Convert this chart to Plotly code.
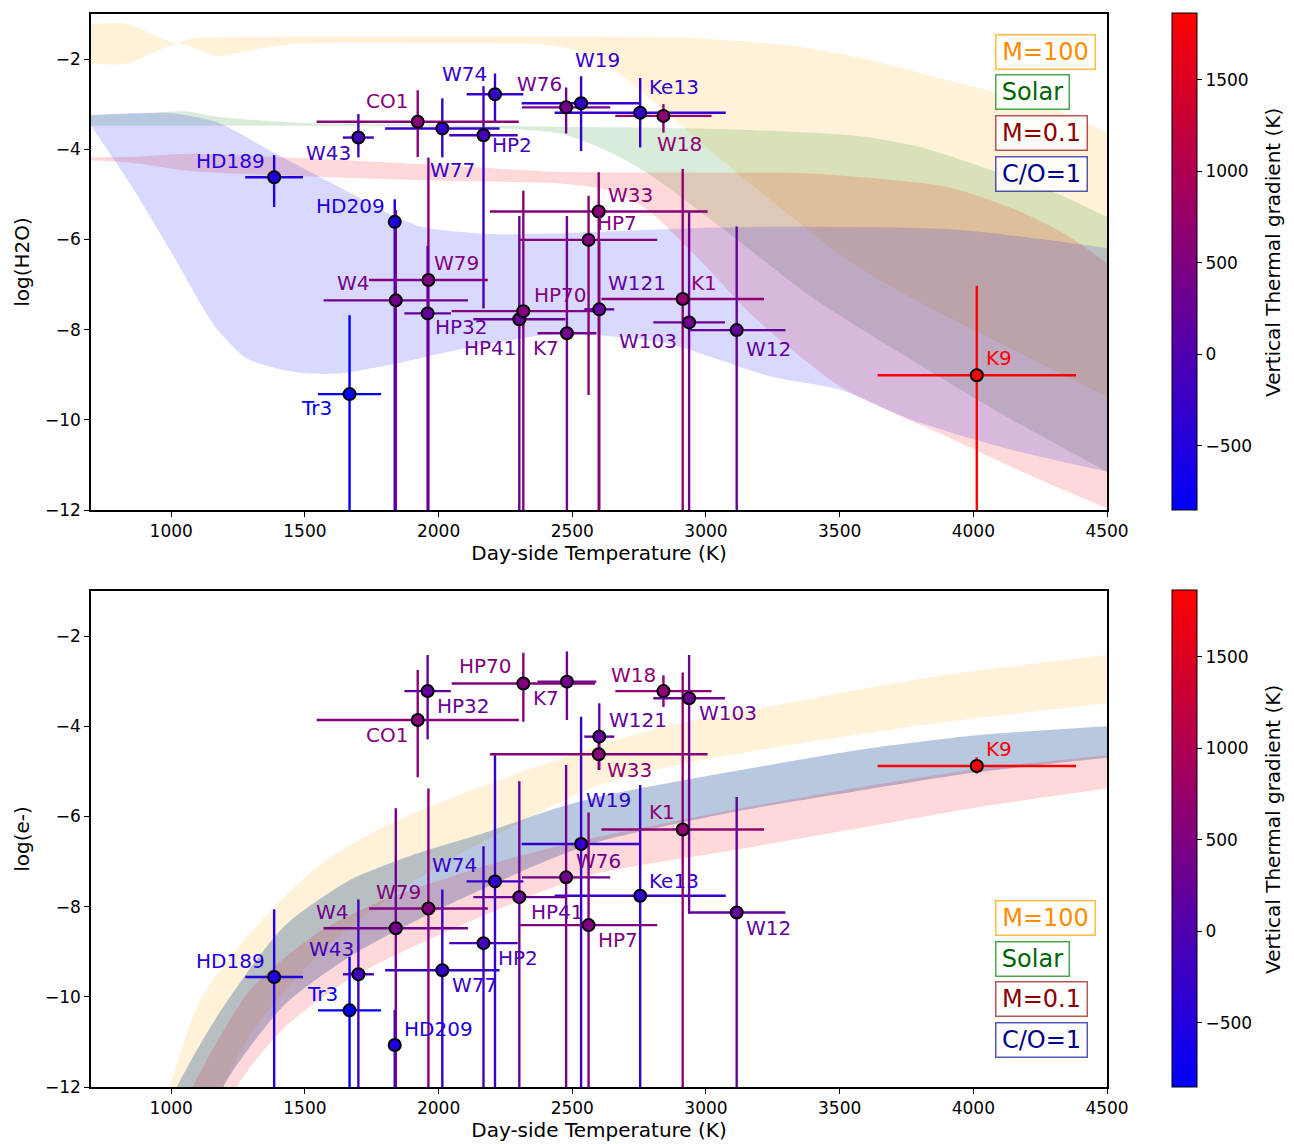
import plotly.graph_objects as go
from plotly.colors import sample_colorscale

# ---------------- data ----------------
names = ["HD189", "HD209", "Tr3", "W43", "W77", "W74", "HP2", "W19", "Ke13", "CO1",
         "W79", "W4", "HP32", "HP41", "HP70", "K7", "W76", "W121", "W33", "HP7",
         "W18", "K1", "W103", "W12", "K9"]
temp = [1385, 1836, 1667, 1700, 2014, 2211, 2168, 2533, 2754, 1922,
        1962, 1840, 1959, 2302, 2317, 2480, 2477, 2601, 2599, 2561,
        2841, 2913, 2937, 3115, 4013]
temp_err = [108, 0, 118, 58, 214, 106, 128, 222, 320, 378,
            222, 270, 87, 172, 268, 110, 165, 56, 407, 257,
            180, 304, 134, 182, 371]
gradient = [-530, -530, -840, -150, -300, -310, -100, -300, -300, 600,
            530, 370, 200, 270, 530, 370, 370, 200, 600, 530,
            660, 660, 310, 200, 1865]

h2o = [-4.62, -5.61, -9.43, -3.74, -3.54, -2.78, -3.69, -2.98, -3.19, -3.39,
       -6.90, -7.35, -7.64, -7.77, -7.59, -8.08, -3.07, -7.55, -5.38, -6.01,
       -3.26, -7.32, -7.84, -8.01, -9.01]
h2o_up = [0.49, 0.50, 1.75, 0.52, 0.67, 0.46, 1.09, 0.60, 0.77, 0.70,
          2.72, 2.00, 1.50, 2.29, 2.67, 2.60, 0.44, 1.50, 0.87, 0.98,
          0.26, 2.88, 2.44, 2.30, 1.98]
h2o_dn = [0.66, 7.0, 3.0, 0.44, 0.64, 0.61, 3.84, 1.06, 0.77, 0.78,
          6.0, 5.0, 5.0, 5.0, 5.0, 4.0, 0.58, 5.0, 7.0, 3.44,
          0.37, 5.0, 5.0, 4.0, 3.0]

elec = [-9.56, -11.07, -10.30, -9.50, -9.41, -7.44, -8.81, -6.61, -7.76, -3.86,
        -8.04, -8.48, -3.22, -7.79, -3.05, -3.01, -7.35, -4.23, -4.62, -8.41,
        -3.22, -6.29, -3.38, -8.13, -4.88]
elec_up = [1.50, 0.78, 1.19, 1.66, 1.79, 2.80, 2.15, 2.82, 2.46, 1.11,
           2.66, 2.66, 0.80, 2.57, 0.68, 0.67, 2.49, 0.74, 0.35, 2.50,
           0.35, 3.48, 0.96, 2.56, 0.19]
elec_dn = [3.0, 1.5, 2.0, 3.0, 3.0, 5.0, 4.0, 6.0, 5.0, 1.27,
           4.0, 4.0, 1.07, 5.0, 0.85, 0.85, 5.0, 0.74, 0.35, 4.0,
           0.35, 6.0, 4.77, 4.0, 0.17]

# model bands, top panel: log(H2O)
h2o_m100_up_T = [700, 834, 1027, 1060, 1171, 1500, 2000, 2567, 3000, 3315, 3600, 3813, 4062, 4300, 4500]
h2o_m100_up = [-1.22, -1.22, -1.66, -1.56, -1.52, -1.50, -1.50, -1.50, -1.55, -1.70, -2.00, -2.33, -2.70, -3.10, -3.63]
h2o_m100_lo_T = [700, 834, 1027, 1171, 1300, 1445, 2000, 2400, 2500, 2641, 2796, 3050, 3374, 3540, 3800, 4200, 4500]
h2o_m100_lo = [-2.10, -2.10, -1.66, -1.93, -1.80, -1.67, -1.65, -1.68, -1.78, -2.18, -2.91, -4.20, -5.75, -6.50, -7.40, -8.60, -9.49]

h2o_sol_up_T = [700, 900, 1060, 1171, 1500, 2000, 2455, 2800, 3112, 3565, 3800, 4062, 4300, 4500]
h2o_sol_up = [-3.24, -3.20, -3.16, -3.28, -3.42, -3.46, -3.50, -3.52, -3.56, -3.70, -3.95, -4.45, -4.95, -5.50]
h2o_sol_lo_T = [700, 1060, 1500, 2000, 2300, 2455, 2625, 2782, 3085, 3400, 3768, 4100, 4500]
h2o_sol_lo = [-3.48, -3.48, -3.48, -3.50, -3.56, -3.65, -4.02, -4.53, -5.86, -7.30, -8.67, -9.85, -11.15]

h2o_m01_up_T = [700, 850, 1068, 1500, 2000, 2455, 3000, 3374, 3900, 4163, 4350, 4500]
h2o_m01_up = [-4.17, -4.17, -4.10, -4.20, -4.35, -4.50, -4.52, -4.53, -4.83, -5.35, -5.90, -6.53]
h2o_m01_lo_T = [700, 850, 1068, 1500, 2000, 2455, 2641, 2783, 3000, 3177, 3505, 3900, 4200, 4500]
h2o_m01_lo = [-4.25, -4.30, -4.48, -4.60, -4.70, -4.76, -4.92, -5.35, -6.60, -7.71, -9.27, -10.37, -11.20, -11.96]

h2o_co1_up_T = [700, 1000, 1171, 1395, 1600, 1819, 1944, 2193, 2455, 3000, 3374, 3900, 4200, 4500]
h2o_co1_up = [-3.24, -3.20, -3.40, -4.11, -4.75, -5.44, -5.73, -5.88, -5.86, -5.74, -5.72, -5.77, -5.95, -6.19]
h2o_co1_lo_T = [700, 860, 996, 1165, 1283, 1395, 1507, 1632, 1819, 2068, 2316, 2455, 2849, 3243, 3505, 3768, 4100, 4500]
h2o_co1_lo = [-3.48, -4.90, -6.24, -7.94, -8.64, -8.86, -8.97, -8.97, -8.78, -8.45, -8.19, -8.08, -8.30, -9.04, -9.34, -10.00, -10.60, -11.15]

# model bands, bottom panel: log(e-)
e_m100_up_T = [960, 996, 1108, 1295, 1545, 1794, 2043, 2293, 2604, 2853, 3228, 3850, 4500]
e_m100_up = [-13.0, -12.0, -10.07, -8.59, -7.12, -6.23, -5.60, -5.05, -4.42, -4.00, -3.57, -2.90, -2.42]
e_m100_lo_T = [1150, 1195, 1300, 1420, 1545, 1669, 1794, 1919, 2043, 2168, 2300, 2450, 2604, 2900, 3228, 3850, 4500]
e_m100_lo = [-13.0, -12.0, -10.8, -9.9, -9.1, -8.45, -7.9, -7.4, -6.95, -6.55, -6.15, -5.70, -5.30, -4.85, -4.50, -3.94, -3.49]

e_sol_up_T = [990, 1021, 1171, 1420, 1669, 1919, 2168, 2417, 2604, 3102, 3601, 4013, 4500]
e_sol_up = [-12.5, -12.0, -10.44, -8.45, -7.41, -6.82, -6.37, -5.86, -5.56, -5.00, -4.50, -4.20, -4.00]
e_sol_lo_T = [1150, 1195, 1420, 1669, 1919, 2168, 2417, 2604, 3102, 3601, 4013, 4500]
e_sol_lo = [-13.0, -12.0, -10.2, -9.1, -8.3, -7.6, -6.95, -6.55, -5.90, -5.40, -5.02, -4.70]

e_co1_up_T = e_sol_up_T
e_co1_up = e_sol_up
e_co1_lo_T = e_sol_lo_T
e_co1_lo = e_sol_lo

e_m01_up_T = [1050, 1080, 1295, 1545, 1794, 2043, 2293, 2542, 3102, 3601, 4013, 4500]
e_m01_up = [-12.5, -12.0, -9.85, -8.59, -7.85, -7.34, -6.89, -6.52, -5.85, -5.33, -4.95, -4.64]
e_m01_lo_T = [1200, 1246, 1420, 1669, 1919, 2168, 2417, 2604, 3102, 3601, 4013, 4500]
e_m01_lo = [-13.0, -12.0, -10.7, -9.6, -8.85, -8.2, -7.6, -7.25, -6.75, -6.23, -5.80, -5.38]

model_names = ["M=100", "Solar", "M=0.1", "C/O=1"]
cbar_title = "Vertical Thermal gradient (K)"

# ---------------- styling ----------------
W, H = 1294, 1144
FONT = "DejaVu Sans"
CMIN, CMAX = -850, 1865
cscale = [[0, "rgb(0,0,255)"], [1, "rgb(255,0,0)"]]
pt_colors = [sample_colorscale(cscale, [(g - CMIN) / (CMAX - CMIN)])[0] for g in gradient]

band_fill = {"M=100": "rgba(255,165,0,0.15)", "Solar": "rgba(0,128,0,0.15)",
             "M=0.1": "rgba(255,0,0,0.15)", "C/O=1": "rgba(0,0,255,0.15)"}
box_style = {  # text colour, border colour, box width px
    "M=100": ("#FF8C00", "rgba(255,165,0,0.75)", 101),
    "Solar": ("#006400", "rgba(0,128,0,0.7)", 75),
    "M=0.1": ("#8B0000", "rgba(139,0,0,0.65)", 93),
    "C/O=1": ("#00008B", "rgba(0,0,139,0.65)", 93),
}

# label offsets in screen pixels (dx, dy-up)
lab_top = [(-44, 16), (-44, 16), (-33, -14), (-30, -15), (10, -41), (-30, 20), (28, -10), (16, 43),
           (34, 26), (-31, 21), (28, 17), (-42, 17), (34, -14), (-29, -29), (37, 16), (-21, -15),
           (-27, 23), (38, 26), (32, 16), (28, 17), (16, -28), (21, 16), (-41, -19), (32, -19), (22, 17)]
lab_bot = [(-44, 16), (44, 16), (-27, 16), (-27, 25), (32, -15), (-40, 16), (34, -15), (27, 44),
           (34, 15), (-31, -15), (-30, 16), (-63, 16), (36, -15), (38, -15), (-38, 17), (-21, -16),
           (32, 16), (39, 17), (31, -16), (29, -15), (-30, 16), (-21, 18), (39, -15), (32, -15), (22, 17)]

fig = go.Figure()


def add_band(xa, ya, T_lo, lo, T_up, up, color):
    common = dict(mode="lines", line=dict(width=0, shape="spline", smoothing=0.7),
                  hoverinfo="skip", showlegend=False, xaxis=xa, yaxis=ya)
    fig.add_trace(go.Scatter(x=T_lo, y=lo, **common))
    fig.add_trace(go.Scatter(x=T_up, y=up, fill="tonexty", fillcolor=color, **common))


# top bands
add_band("x", "y", h2o_m100_lo_T, h2o_m100_lo, h2o_m100_up_T, h2o_m100_up, band_fill["M=100"])
add_band("x", "y", h2o_sol_lo_T, h2o_sol_lo, h2o_sol_up_T, h2o_sol_up, band_fill["Solar"])
add_band("x", "y", h2o_m01_lo_T, h2o_m01_lo, h2o_m01_up_T, h2o_m01_up, band_fill["M=0.1"])
add_band("x", "y", h2o_co1_lo_T, h2o_co1_lo, h2o_co1_up_T, h2o_co1_up, band_fill["C/O=1"])
# bottom bands
add_band("x2", "y2", e_m100_lo_T, e_m100_lo, e_m100_up_T, e_m100_up, band_fill["M=100"])
add_band("x2", "y2", e_sol_lo_T, e_sol_lo, e_sol_up_T, e_sol_up, band_fill["Solar"])
add_band("x2", "y2", e_m01_lo_T, e_m01_lo, e_m01_up_T, e_m01_up, band_fill["M=0.1"])
add_band("x2", "y2", e_co1_lo_T, e_co1_lo, e_co1_up_T, e_co1_up, band_fill["C/O=1"])


def add_points(xa, ya, yvals, yup, ydn, cax, labs):
    for i, n in enumerate(names):
        fig.add_trace(go.Scatter(
            x=[temp[i]], y=[yvals[i]], mode="markers",
            marker=dict(size=1, opacity=0), hoverinfo="skip", showlegend=False,
            error_x=dict(type="data", array=[temp_err[i]], color=pt_colors[i], thickness=2.4, width=0,
                         visible=temp_err[i] > 0),
            error_y=dict(type="data", symmetric=False, array=[yup[i]], arrayminus=[ydn[i]],
                         color=pt_colors[i], thickness=2.4, width=0),
            xaxis=xa, yaxis=ya))
    fig.add_trace(go.Scatter(
        x=temp, y=yvals, mode="markers", text=names, showlegend=False,
        marker=dict(size=12, color=gradient, coloraxis=cax, line=dict(color="black", width=2)),
        xaxis=xa, yaxis=ya))
    for i, n in enumerate(names):
        fig.add_annotation(x=temp[i], y=yvals[i], xref=xa, yref=ya, text=n, showarrow=False,
                           xshift=labs[i][0], yshift=labs[i][1],
                           font=dict(size=20, color=pt_colors[i], family=FONT))


add_points("x", "y", h2o, h2o_up, h2o_dn, "coloraxis", lab_top)
add_points("x2", "y2", elec, elec_up, elec_dn, "coloraxis2", lab_bot)

# model "legend" boxes
box_top = [52, 92.5, 133.5, 174]
box_bot = [918, 958.7, 999, 1040]
for centers in (box_top, box_bot):
    for m, yc in zip(model_names, centers):
        tc, bc, wpx = box_style[m]
        fig.add_annotation(xref="paper", yref="paper", x=994.5 / W, y=1 - yc / H,
                           xanchor="left", yanchor="middle", text=m, showarrow=False,
                           width=wpx - 3, height=33, align="center", valign="middle",
                           bordercolor=bc, borderwidth=1.5, borderpad=0,
                           bgcolor="rgba(255,255,255,0.8)",
                           font=dict(size=24, color=tc, family=FONT))

# colour-bar titles
for yc in (253, 830):
    fig.add_annotation(xref="paper", yref="paper", x=1273 / W, y=1 - yc / H,
                       xanchor="center", yanchor="middle", text=cbar_title, textangle=-90,
                       showarrow=False, font=dict(size=20, color="black", family=FONT))

xdom = [91 / W, 1107 / W]
ydom_top = [1 - 510 / H, 1 - 14 / H]
ydom_bot = [1 - 1087 / H, 1 - 591 / H]

axis_common = dict(showline=True, linecolor="black", linewidth=1.5, mirror=True,
                   ticks="outside", ticklen=5, tickwidth=1.2, tickcolor="black", automargin=False,
                   showgrid=False, zeroline=False, tickfont=dict(size=17, color="black", family=FONT))
xax = dict(range=[700, 4500], tickvals=[1000, 1500, 2000, 2500, 3000, 3500, 4000, 4500],
           title=dict(text="Day-side Temperature (K)", font=dict(size=20, color="black"), standoff=4),
           domain=xdom, **axis_common)
yax = dict(range=[-12, -1], tickvals=[-12, -10, -8, -6, -4, -2], **axis_common)


def cbar(ytop):
    return dict(x=1172 / W, xanchor="left", xpad=0, y=1 - ytop / H, yanchor="top", ypad=0,
                len=497 / H, lenmode="fraction", thickness=25, thicknessmode="pixels",
                outlinewidth=1, outlinecolor="black", ticks="outside", ticklen=5,
                tickcolor="black", tickvals=[-500, 0, 500, 1000, 1500],
                tickfont=dict(size=17, color="black", family=FONT))


fig.update_layout(
    width=W, height=H, margin=dict(l=0, r=0, t=0, b=0, autoexpand=False),
    paper_bgcolor="white", plot_bgcolor="white",
    font=dict(family=FONT, color="black"),
    xaxis=dict(anchor="y", **xax),
    yaxis=dict(anchor="x", domain=ydom_top,
               title=dict(text="log(H2O)", font=dict(size=20, color="black"), standoff=10), **yax),
    xaxis2=dict(anchor="y2", **xax),
    yaxis2=dict(anchor="x2", domain=ydom_bot,
                title=dict(text="log(e-)", font=dict(size=20, color="black"), standoff=10), **yax),
    coloraxis=dict(colorscale=cscale, cmin=CMIN, cmax=CMAX, colorbar=cbar(13)),
    coloraxis2=dict(colorscale=cscale, cmin=CMIN, cmax=CMAX, colorbar=cbar(590)),
)

fig.write_html("out.html", config={"displayModeBar": False},
               post_script="document.body.style.margin='0px';")
